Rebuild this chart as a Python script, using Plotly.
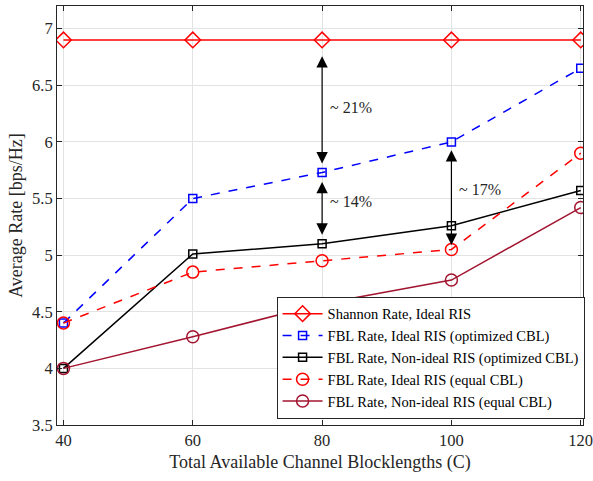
import plotly.graph_objects as go

# Total available channel blocklengths
cbl = [40, 60, 80, 100, 120]

shannon_ideal = [6.9, 6.9, 6.9, 6.9, 6.9]
fbl_ideal_opt = [4.4, 5.5, 5.73, 6.0, 6.65]
fbl_nonideal_opt = [4.0, 5.01, 5.1, 5.26, 5.57]
fbl_ideal_equal = [4.4, 4.85, 4.95, 5.05, 5.9]
fbl_nonideal_equal = [4.0, 4.28, 4.57, 4.78, 5.42]

series_names = [
    "Shannon Rate, Ideal RIS",
    "FBL Rate, Ideal RIS (optimized CBL)",
    "FBL Rate, Non-ideal RIS (optimized CBL)",
    "FBL Rate, Ideal RIS (equal CBL)",
    "FBL Rate, Non-ideal RIS (equal CBL)",
]

# Gap indicators: (x, upper value, lower value, label)
gaps = [
    (80, 6.77, 5.81, "~ 21%"),
    (80, 5.66, 5.18, "~ 14%"),
    (100, 5.94, 5.09, "~ 17%"),
]
gap_label_pos = [(80, 6.3), (80, 5.47), (100, 5.58)]

FONT = "Liberation Serif, Times New Roman, serif"
DARKRED = "#A2142F"

fig = go.Figure()

styles = [
    (shannon_ideal, "red", "solid", "diamond-open", 12),
    (fbl_ideal_opt, "blue", "dash", "square-open", 8),
    (fbl_nonideal_opt, "black", "solid", "square-open", 8),
    (fbl_ideal_equal, "red", "dash", "circle-open", 12),
    (fbl_nonideal_equal, DARKRED, "solid", "circle-open", 12),
]

for (vals, color, dash, symbol, msize), name in zip(styles, series_names):
    fig.add_trace(go.Scatter(
        x=cbl, y=vals, name=name, mode="lines+markers",
        line=dict(color=color, width=1.5, dash=dash),
        marker=dict(symbol=symbol, size=msize, color=color,
                    line=dict(width=1.5, color=color)),
    ))

annotations = []
for (gx, hi, lo, label), (lx, ly) in zip(gaps, gap_label_pos):
    annotations.append(dict(
        x=gx, y=lo, ax=gx, ay=hi, xref="x", yref="y", axref="x", ayref="y",
        text="", showarrow=True, arrowhead=2, arrowside="end+start",
        arrowsize=1.9, arrowwidth=1.2, arrowcolor="black",
    ))
    annotations.append(dict(
        x=lx, y=ly, xref="x", yref="y", text=label, showarrow=False,
        xanchor="left", xshift=6, font=dict(family=FONT, size=16, color="#262626"),
    ))

axis_common = dict(
    showline=True, linecolor="#262626", linewidth=1, mirror="ticks",
    ticks="inside", ticklen=5, tickcolor="#262626",
    showgrid=True, gridcolor="#e3e3e3", gridwidth=1, zeroline=False,
    tickfont=dict(family=FONT, size=16.5, color="#262626"),
    ticklabeloverflow="allow", automargin=False,
)

fig.update_layout(
    width=593, height=481,
    margin=dict(l=57, r=10, t=6, b=56),
    paper_bgcolor="white", plot_bgcolor="white",
    font=dict(family=FONT, color="#262626"),
    xaxis=dict(range=[39, 120.35], tickvals=cbl,
               title=dict(text="Total Available Channel Blocklengths (C)",
                          font=dict(family=FONT, size=18, color="#262626"), standoff=6),
               **axis_common),
    yaxis=dict(range=[3.5, 7.2], tickvals=[3.5, 4, 4.5, 5, 5.5, 6, 6.5, 7],
               ticktext=["3.5", "4", "4.5", "5", "5.5", "6", "6.5", "7"],
               title=dict(text="Average Rate [bps/Hz]",
                          font=dict(family=FONT, size=18, color="#262626"), standoff=4),
               **axis_common),
    legend=dict(x=1.003, y=0.015, xanchor="right", yanchor="bottom",
                bgcolor="white", bordercolor="#262626", borderwidth=1,
                font=dict(family=FONT, size=14.5, color="black"),
                tracegroupgap=0, itemwidth=40),
    annotations=annotations,
    showlegend=True,
)

fig.write_html("out.html")
